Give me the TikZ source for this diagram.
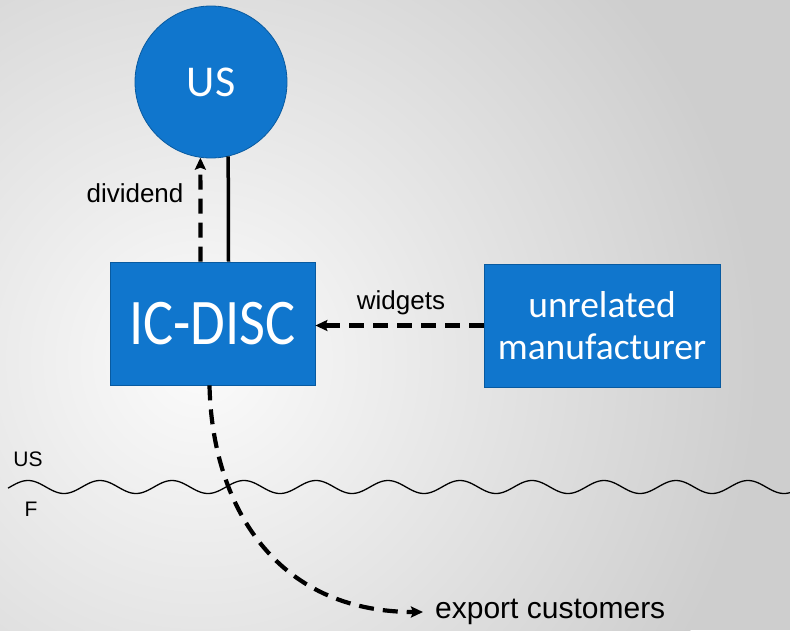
\documentclass[tikz,border=0pt]{standalone}
\usepackage{fontspec}
\setmainfont{Liberation Sans}
\newfontfamily\boxfont{Carlito}
\usetikzlibrary{arrows.meta,calc}
\definecolor{boxblue}{RGB}{16,118,205}
\definecolor{boxedge}{RGB}{8,90,160}
\definecolor{bggrey}{RGB}{206,206,206}
\tikzset{
  bluebox/.style={rectangle, fill=boxblue, draw=boxedge, line width=0.8pt,
    text=white, inner sep=0pt, align=center},
  bluedisc/.style={circle, fill=boxblue, draw=boxedge, line width=0.8pt,
    text=white, inner sep=0pt},
  dasharrow/.style={line width=4.2pt, dash pattern=on 15pt off 9pt,
    -{Stealth[length=12pt,width=11pt,inset=2pt]}},
  plainlabel/.style={inner sep=0pt, text=black},
}
\begin{document}
\begin{tikzpicture}[x=1pt,y=-1pt]
  \useasboundingbox (0,0) rectangle (790,630);
  \clip (0,0) rectangle (790,630);
  % light grey backdrop, brighter towards the left
  \fill[bggrey] (0,0) rectangle (790,630);
  \shade[inner color=gray!3, outer color=bggrey] (200,360) circle (560);

  % nodes
  \node[bluedisc, minimum size=152pt] (us) at (211,82)
    {\boxfont\fontsize{44}{44}\selectfont US};
  \node[bluebox, minimum width=205pt, minimum height=123pt] (ic) at (212.5,323.5)
    {\boxfont\scalebox{0.91}[1.05]{\fontsize{62}{62}\selectfont IC-DISC}};
  \node[bluebox, minimum width=236pt, minimum height=123pt,
        font=\boxfont\fontsize{37.5}{42}\selectfont] (mfr) at (602,325.5)
    {unrelated\\manufacturer};
  \node[plainlabel, anchor=west, font=\fontsize{30}{30}\selectfont] (ex) at (435,612)
    {export customers};

  % connectors
  \draw[dasharrow] ([xshift=-12pt]ic.north) -- (us.-98);
  \draw[line width=3.5pt] ([xshift=16pt]ic.north) -- (us.-77);
  \draw[dasharrow] (mfr.west) -- (mfr.west -| ic.east);
  \draw[dasharrow] ([xshift=-3pt]ic.south) .. controls (212,505) and (275,612) .. ([xshift=-12pt]ex.west);

  % labels on the connectors
  \node[plainlabel, font=\fontsize{26}{26}\selectfont] (lbldiv) at (135,193) {dividend};
  \node[plainlabel, font=\fontsize{26}{26}\selectfont] (lblwid) at (401,303) {widgets};

  % border between the two jurisdictions
  \draw[line width=1.3pt] plot[domain=8:800, samples=400, smooth]
    (\x, {487 - 6.5*sin((\x-10)*5)});
  \node[plainlabel, font=\fontsize{21}{21}\selectfont] (lblus) at (28,459) {US};
  \node[plainlabel, font=\fontsize{21}{21}\selectfont] (lblf) at (31,509) {F};
\end{tikzpicture}
\end{document}
